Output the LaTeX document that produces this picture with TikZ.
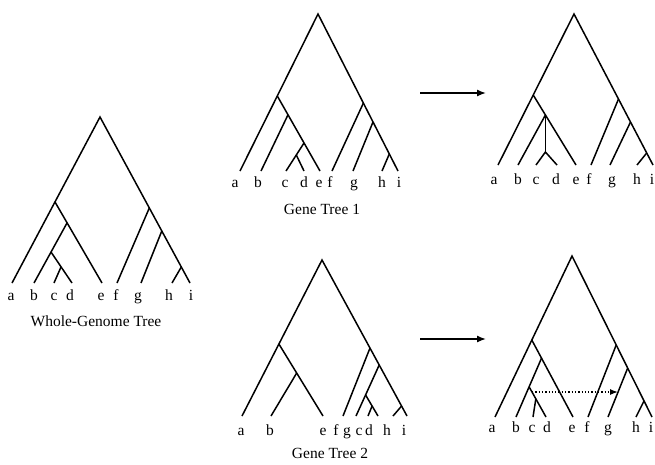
\documentclass[tikz,border=0pt]{standalone}
\usepackage{fontspec}
\setmainfont{Liberation Serif}
\usetikzlibrary{arrows.meta}
\begin{document}
\begin{tikzpicture}[x=1pt,y=-1pt,
  br/.style={line width=1.5pt},
  lbl/.style={anchor=base,inner sep=0pt,font=\fontsize{15.5}{18}\selectfont},
  ttl/.style={anchor=base,inner sep=0pt,font=\fontsize{15.5}{18}\selectfont},
  arr/.style={line width=1.4pt,-{Latex[length=9pt,width=7pt]}},
  darr/.style={line width=1.3pt,dotted,-{Latex[length=8pt,width=6pt]}}]
\useasboundingbox (0,0) rectangle (655,464);

% ---------------- Whole-Genome Tree ----------------
\coordinate (wr) at (100,117);
\coordinate (wl1) at (55,202);
\coordinate (wl2) at (67,223);
\coordinate (wl3) at (51,252);
\coordinate (wl4) at (61,267);
\coordinate (wr1) at (149.3,208);
\coordinate (wr2) at (161.8,231);
\coordinate (wr3) at (181.3,267);
\coordinate (wa) at (12,283);
\coordinate (wb) at (34,283);
\coordinate (wc) at (54,283);
\coordinate (wd) at (72,283);
\coordinate (we) at (102,283);
\coordinate (wf) at (117,283);
\coordinate (wg) at (141,283);
\coordinate (wh) at (172,283);
\coordinate (wi) at (190,283);
\draw[br] (wa) -- (wr) -- (wi);
\draw[br] (wl1) -- (we);
\draw[br] (wl2) -- (wb);
\draw[br] (wl3) -- (wd);
\draw[br] (wl4) -- (wc);
\draw[br] (wr1) -- (wf);
\draw[br] (wr2) -- (wg);
\draw[br] (wr3) -- (wh);
\node[lbl] (wla) at (11,300) {a};
\node[lbl] (wlb) at (34,300) {b};
\node[lbl] (wlc) at (54,300) {c};
\node[lbl] (wld) at (70,300) {d};
\node[lbl] (wle) at (101,300) {e};
\node[lbl] (wlf) at (116,300) {f};
\node[lbl] (wlg) at (138,300) {g};
\node[lbl] (wlh) at (169,300) {h};
\node[lbl] (wli) at (191,300) {i};
\node[ttl] (wt) at (96,326) {Whole-Genome Tree};

% ---------------- Gene Tree 1 ----------------
\coordinate (gr) at (318,14);
\coordinate (gl1) at (277.3,96);
\coordinate (gl2) at (287.9,115);
\coordinate (gl3) at (304,143);
\coordinate (gl4) at (296.3,155);
\coordinate (gr1) at (363.4,103);
\coordinate (gr2) at (373,122);
\coordinate (gr3) at (389.3,154);
\coordinate (ga) at (240,171);
\coordinate (gb) at (261,171);
\coordinate (gc) at (286,171);
\coordinate (gd) at (304,171);
\coordinate (ge) at (320,171);
\coordinate (gf) at (332,171);
\coordinate (gg) at (353,171);
\coordinate (gh) at (382,171);
\coordinate (gi) at (398,171);
\draw[br] (ga) -- (gr) -- (gi);
\draw[br] (gl1) -- (ge);
\draw[br] (gl2) -- (gb);
\draw[br] (gl3) -- (gc);
\draw[br] (gl4) -- (gd);
\draw[br] (gr1) -- (gf);
\draw[br] (gr2) -- (gg);
\draw[br] (gr3) -- (gh);
\node[lbl] (gla) at (235,187) {a};
\node[lbl] (glb) at (258,187) {b};
\node[lbl] (glc) at (285,187) {c};
\node[lbl] (gld) at (304,187) {d};
\node[lbl] (gle) at (319,187) {e};
\node[lbl] (glf) at (330,187) {f};
\node[lbl] (glg) at (354,187) {g};
\node[lbl] (glh) at (382,187) {h};
\node[lbl] (gli) at (399,187) {i};
\node[ttl] (gt) at (322,214) {Gene Tree 1};

% ---------------- Top right tree ----------------
\coordinate (tr) at (574,14);
\coordinate (tl1) at (533.2,95);
\coordinate (tl2) at (545.4,115);
\coordinate (tv) at (545.4,152);
\coordinate (tr1) at (618.5,99);
\coordinate (tr2) at (630.5,122);
\coordinate (tr3) at (646.7,153);
\coordinate (ta) at (498,165);
\coordinate (tb) at (518,165);
\coordinate (tc) at (536,165);
\coordinate (td) at (557,165);
\coordinate (te) at (576,165);
\coordinate (tf) at (591,165);
\coordinate (tg) at (610,165);
\coordinate (th) at (637,165);
\coordinate (ti) at (653,165);
\draw[br] (ta) -- (tr) -- (ti);
\draw[br] (tl1) -- (te);
\draw[br] (tl2) -- (tb);
\draw[br] (tl2) -- (tv);
\draw[br] (tc) -- (tv) -- (td);
\draw[br] (tr1) -- (tf);
\draw[br] (tr2) -- (tg);
\draw[br] (tr3) -- (th);
\node[lbl] (tla) at (494,184) {a};
\node[lbl] (tlb) at (518,184) {b};
\node[lbl] (tlc) at (536,184) {c};
\node[lbl] (tld) at (556,184) {d};
\node[lbl] (tle) at (576,184) {e};
\node[lbl] (tlf) at (589,184) {f};
\node[lbl] (tlg) at (612,184) {g};
\node[lbl] (tlh) at (637,184) {h};
\node[lbl] (tli) at (652,184) {i};

% ---------------- Gene Tree 2 ----------------
\coordinate (hr) at (322,260);
\coordinate (hl1) at (278.9,344);
\coordinate (hl2) at (296.7,373);
\coordinate (hr1) at (370,348);
\coordinate (hr2) at (379.2,365);
\coordinate (hr3) at (365.6,395);
\coordinate (hr4) at (372.1,406);
\coordinate (hr5) at (401.6,406);
\coordinate (ha) at (242,416);
\coordinate (hb) at (271,416);
\coordinate (he) at (323,416);
\coordinate (hf) at (343,416);
\coordinate (hg) at (356,416);
\coordinate (hc) at (368,416);
\coordinate (hd) at (378,416);
\coordinate (hh) at (393,416);
\coordinate (hi) at (407,416);
\draw[br] (ha) -- (hr) -- (hi);
\draw[br] (hl1) -- (he);
\draw[br] (hl2) -- (hb);
\draw[br] (hr1) -- (hf);
\draw[br] (hr2) -- (hg);
\draw[br] (hr3) -- (hd);
\draw[br] (hr4) -- (hc);
\draw[br] (hr5) -- (hh);
\node[lbl] (hla) at (241,435.5) {a};
\node[lbl] (hlb) at (270,435.5) {b};
\node[lbl] (hle) at (323,435.5) {e};
\node[lbl] (hlf) at (336,435.5) {f};
\node[lbl] (hlg) at (347,435.5) {g};
\node[lbl] (hlc) at (359,435.5) {c};
\node[lbl] (hld) at (369,435.5) {d};
\node[lbl] (hlh) at (387,435.5) {h};
\node[lbl] (hli) at (404,435.5) {i};
\node[ttl] (ht) at (330,458) {Gene Tree 2};

% ---------------- Bottom right tree ----------------
\coordinate (br) at (572,256);
\coordinate (bl1) at (531.8,340);
\coordinate (bl2) at (541.6,358);
\coordinate (bl3) at (529.2,387);
\coordinate (bl4) at (535.8,399);
\coordinate (br1) at (616.2,345);
\coordinate (br2) at (627.7,368);
\coordinate (br3) at (644,401);
\coordinate (ba) at (495,417);
\coordinate (bb) at (516,417);
\coordinate (bc) at (533,417);
\coordinate (bd) at (546,417);
\coordinate (be) at (573,417);
\coordinate (bf) at (588,417);
\coordinate (bg) at (608,417);
\coordinate (bh) at (636,417);
\coordinate (bi) at (652,417);
\draw[br] (ba) -- (br) -- (bi);
\draw[br] (bl1) -- (be);
\draw[br] (bl2) -- (bb);
\draw[br] (bl3) -- (bd);
\draw[br] (bl4) -- (bc);
\draw[br] (br1) -- (bf);
\draw[br] (br2) -- (bg);
\draw[br] (br3) -- (bh);
\node[lbl] (bla) at (492,432.5) {a};
\node[lbl] (blb) at (516,432.5) {b};
\node[lbl] (blc) at (532,432.5) {c};
\node[lbl] (bld) at (547,432.5) {d};
\node[lbl] (ble) at (572,432.5) {e};
\node[lbl] (blf) at (587,432.5) {f};
\node[lbl] (blg) at (608,432.5) {g};
\node[lbl] (blh) at (636,432.5) {h};
\node[lbl] (bli) at (651,432.5) {i};
\coordinate (ds) at (532,392);
\coordinate (de) at (618,392);
\draw[darr] (ds) -- (de);

% ---------------- Arrows ----------------
\coordinate (a1s) at (420,93);
\coordinate (a1e) at (486,93);
\coordinate (a2s) at (420,339);
\coordinate (a2e) at (486,339);
\draw[arr] (a1s) -- (a1e);
\draw[arr] (a2s) -- (a2e);
\end{tikzpicture}
\end{document}
